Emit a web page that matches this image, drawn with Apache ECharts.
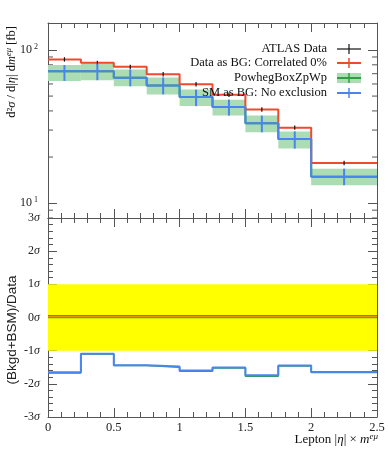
<!DOCTYPE html>
<html><head><meta charset="utf-8">
<script src="https://cdn.jsdelivr.net/npm/echarts@6/dist/echarts.min.js"></script>
<style>html,body{margin:0;padding:0;background:#fff}#c{width:389px;height:450px}</style>
</head><body><div id="c"></div>
<script>
const binEdges = [0, 0.25, 0.5, 0.75, 1, 1.25, 1.5, 1.75, 2, 2.5];
const dataVals = [86.8, 82.5, 77.6, 69.5, 59.7, 51.1, 40.9, 31.1, 18.3];
const dataErr  = [2.9, 2.7, 2.6, 2.3, 2.0, 1.7, 1.4, 1.0, 0.6];
const corrVals = [86.8, 82.5, 77.6, 69.5, 59.7, 51.1, 40.9, 31.1, 18.3];
const smVals   = [72.5, 72.5, 65.8, 58.6, 49.3, 42.4, 33.2, 26.2, 14.9];
const smUp     = [79.7, 81.5, 74.6, 66.1, 55.1, 47.4, 37.3, 29.4, 16.8];
const smDn     = [62.8, 63.5, 57.9, 51.3, 43.0, 37.3, 29.0, 22.7, 13.1];
const ratioCorr   = [0.05, 0.05, 0.05, 0.05, 0.05, 0.05, 0.05, 0.05, 0.05];
const ratioZero   = [0, 0, 0, 0, 0, 0, 0, 0, 0];
const ratioPowheg = [-1.67, -1.10, -1.45, -1.50, -1.62, -1.52, -1.77, -1.46, -1.66];
const ratioSM     = [-1.65, -1.09, -1.44, -1.48, -1.60, -1.51, -1.74, -1.45, -1.64];
const xTicks = [0, 0.5, 1, 1.5, 2, 2.5];
const logMinor = [8, 9, 20, 30, 40, 50, 60, 70, 80, 90];
const legendNames = ['ATLAS Data', 'Data as BG: Correlated 0%', 'PowhegBoxZpWp', 'SM as BG: No exclusion'];

const FONT = 'Liberation Serif';
const RED = '#ee4a2e', BLUE = '#4a85ee', GREEN = '#2ea043', BAND = '#abdcb3';

function step(vals) {
  const p = [];
  vals.forEach((v, i) => { p.push([binEdges[i], v], [binEdges[i + 1], v]); });
  return p;
}
const centers = binEdges.slice(0, -1).map((e, i) => (e + binEdges[i + 1]) / 2);

function stepSeries(vals, color, xi, yi, w, z) {
  return { type: 'line', xAxisIndex: xi, yAxisIndex: yi, data: step(vals), symbol: 'none',
    lineStyle: { color: color, width: w }, z: z, silent: true, animation: false };
}

const axisCommon = {
  axisLine: { show: true, onZero: false, lineStyle: { color: '#555', width: 1 } },
  axisTick: { show: true, inside: true, length: 9, lineStyle: { color: '#555' } },
  minorTick: { show: true, splitNumber: 5, length: 5, lineStyle: { color: '#555' } },
  splitLine: { show: false }, minorSplitLine: { show: false }
};
function xAx(grid, pos, labels) {
  return Object.assign({}, axisCommon, { type: 'value', gridIndex: grid, position: pos, min: 0, max: 2.5, interval: 0.5,
    axisLabel: { show: labels, color: '#222', fontFamily: FONT, fontSize: 12.5, margin: 4,
      formatter: v => String(+v.toFixed(2)) } });
}
function ratioLabel(v) {
  const n = Math.round(v);
  return '{n|' + (n < 0 ? '-' + (-n) : n) + '}{s|σ}';
}

const option = {
  animation: false,
  grid: [
    { left: 48, right: 12, top: 23, height: 195 },
    { left: 48, right: 12, top: 218, height: 199 }
  ],
  xAxis: [xAx(0, 'bottom', false), xAx(0, 'top', false), xAx(1, 'bottom', true), xAx(1, 'top', false)],
  yAxis: [
    Object.assign({}, axisCommon, { type: 'log', gridIndex: 0, position: 'left', min: 8, max: 150, logBase: 10,
      minorTick: { show: false },
      axisLabel: { show: true, color: '#222', fontFamily: FONT, fontSize: 12, margin: 10,
        formatter: v => (Math.abs(v - 10) < 1e-6 ? '{b|10}{e|1}' : (Math.abs(v - 100) < 1e-6 ? '{b|10}{e|2}' : '')),
        rich: { b: { fontFamily: FONT, fontSize: 12, color: '#222' },
                e: { fontFamily: FONT, fontSize: 8, color: '#222', padding: [0, 0, 7, 2] } } } }),
    Object.assign({}, axisCommon, { type: 'log', gridIndex: 0, position: 'right', min: 8, max: 150, logBase: 10,
      minorTick: { show: false }, axisLabel: { show: false } }),
    Object.assign({}, axisCommon, { type: 'value', gridIndex: 1, position: 'left', min: -3, max: 3, interval: 1,
      axisLabel: { show: true, fontFamily: FONT, margin: 8, formatter: ratioLabel,
        rich: { n: { fontFamily: FONT, fontSize: 12, color: '#222' },
                s: { fontFamily: FONT, fontSize: 12, color: '#222', fontStyle: 'italic' } } } }),
    Object.assign({}, axisCommon, { type: 'value', gridIndex: 1, position: 'right', min: -3, max: 3, interval: 1,
      axisLabel: { show: false } })
  ],
  series: [
    { type: 'custom', xAxisIndex: 0, yAxisIndex: 0, data: logMinor.map(v => [0, v]), silent: true, z: 1, clip: false,
      renderItem: (params, api) => {
        const y = api.coord([0, api.value(1)])[1];
        const xl = api.coord([0, 10])[0], xr = api.coord([2.5, 10])[0];
        return { type: 'group', children: [
          { type: 'line', shape: { x1: xl, y1: y, x2: xl + 5, y2: y }, style: { stroke: '#555', lineWidth: 1 } },
          { type: 'line', shape: { x1: xr, y1: y, x2: xr - 5, y2: y }, style: { stroke: '#555', lineWidth: 1 } }
        ] };
      } },
    { type: 'custom', xAxisIndex: 0, yAxisIndex: 0, silent: true, z: 2,
      data: smVals.map((v, i) => [binEdges[i], binEdges[i + 1], smDn[i], smUp[i]]),
      renderItem: (params, api) => {
        const p1 = api.coord([api.value(0), api.value(3)]);
        const p2 = api.coord([api.value(1), api.value(2)]);
        return { type: 'rect', shape: { x: p1[0], y: p1[1], width: p2[0] - p1[0], height: p2[1] - p1[1] },
          style: { fill: BAND } };
      } },
    stepSeries(smVals, GREEN, 0, 0, 2, 3),
    stepSeries(corrVals, RED, 0, 0, 2, 4),
    { type: 'custom', xAxisIndex: 0, yAxisIndex: 0, silent: true, z: 5,
      data: dataVals.map((v, i) => [centers[i], v - dataErr[i], v + dataErr[i]]),
      renderItem: (params, api) => {
        const a = api.coord([api.value(0), api.value(1)]);
        const b = api.coord([api.value(0), api.value(2)]);
        return { type: 'line', shape: { x1: a[0], y1: a[1], x2: b[0], y2: b[1] }, style: { stroke: '#111', lineWidth: 1.2 } };
      } },
    stepSeries(smVals, BLUE, 0, 0, 2, 6),
    { type: 'custom', xAxisIndex: 0, yAxisIndex: 0, silent: true, z: 7,
      data: smVals.map((v, i) => [centers[i], smDn[i], smUp[i]]),
      renderItem: (params, api) => {
        const a = api.coord([api.value(0), api.value(1)]);
        const b = api.coord([api.value(0), api.value(2)]);
        return { type: 'line', shape: { x1: a[0], y1: a[1], x2: b[0], y2: b[1] }, style: { stroke: BLUE, lineWidth: 2 } };
      } },
    { type: 'line', xAxisIndex: 2, yAxisIndex: 2, data: [], z: 1, silent: true,
      markArea: { silent: true, itemStyle: { color: '#ffff00', opacity: 1 },
        data: [[{ coord: [0, -1] }, { coord: [2.5, 1] }]] } },
    stepSeries(ratioZero, '#5fa82a', 2, 2, 1.5, 3),
    stepSeries(ratioCorr, RED, 2, 2, 1.5, 4),
    stepSeries(ratioPowheg, GREEN, 2, 2, 1.5, 5),
    stepSeries(ratioSM, BLUE, 2, 2, 2, 6)
  ],
  graphic: []
};

const rowsY = [49, 63, 78, 93];
const lgColors = ['#111', RED, GREEN, BLUE];
const g = [];
legendNames.forEach((name, i) => {
  const y = rowsY[i];
  g.push({ type: 'text', x: 327, y: y, style: { text: name, fontFamily: FONT, fontSize: 12.5, fill: '#111', align: 'right', verticalAlign: 'middle' }, z: 100 });
  if (i === 2) g.push({ type: 'rect', shape: { x: 337, y: y - 5, width: 24, height: 10 }, style: { fill: BAND }, z: 100 });
  g.push({ type: 'line', shape: { x1: 337, y1: y, x2: 361, y2: y }, style: { stroke: lgColors[i], lineWidth: i === 0 ? 1.2 : 2 }, z: 101 });
  g.push({ type: 'line', shape: { x1: 349, y1: y - 5, x2: 349, y2: y + 5 }, style: { stroke: lgColors[i], lineWidth: i === 0 ? 1.2 : 1.5 }, z: 101 });
});
g.push({ type: 'text', x: 12, y: 72, rotation: Math.PI / 2,
  style: { text: '{a|d²}{i|σ}{a| / d|}{i|η}{a|| d}{i|m}{e|eμ}{a| [fb]}', align: 'center', verticalAlign: 'middle',
    rich: { a: { fontFamily: FONT, fontSize: 12.5, fill: '#111' }, i: { fontFamily: FONT, fontSize: 12.5, fill: '#111', fontStyle: 'italic' },
            e: { fontFamily: FONT, fontSize: 8.5, fill: '#111', fontStyle: 'italic', padding: [0, 0, 7, 0] } } } });
g.push({ type: 'text', x: 12, y: 330, rotation: Math.PI / 2,
  style: { text: '(Bkgd+BSM)/Data', fontFamily: 'Liberation Sans', fontSize: 13.5, fill: '#222', align: 'center', verticalAlign: 'middle' } });
g.push({ type: 'text', x: 378, y: 440,
  style: { text: '{a|Lepton |}{i|η}{a|| × }{i|m}{e|eμ}', align: 'right', verticalAlign: 'middle',
    rich: { a: { fontFamily: FONT, fontSize: 13, fill: '#111' }, i: { fontFamily: FONT, fontSize: 13, fill: '#111', fontStyle: 'italic' },
            e: { fontFamily: FONT, fontSize: 9, fill: '#111', fontStyle: 'italic', padding: [0, 0, 7, 0] } } } });
option.graphic = g;

const chart = echarts.init(document.getElementById('c'), null, { renderer: 'canvas' });
chart.setOption(option);
</script></body></html>
